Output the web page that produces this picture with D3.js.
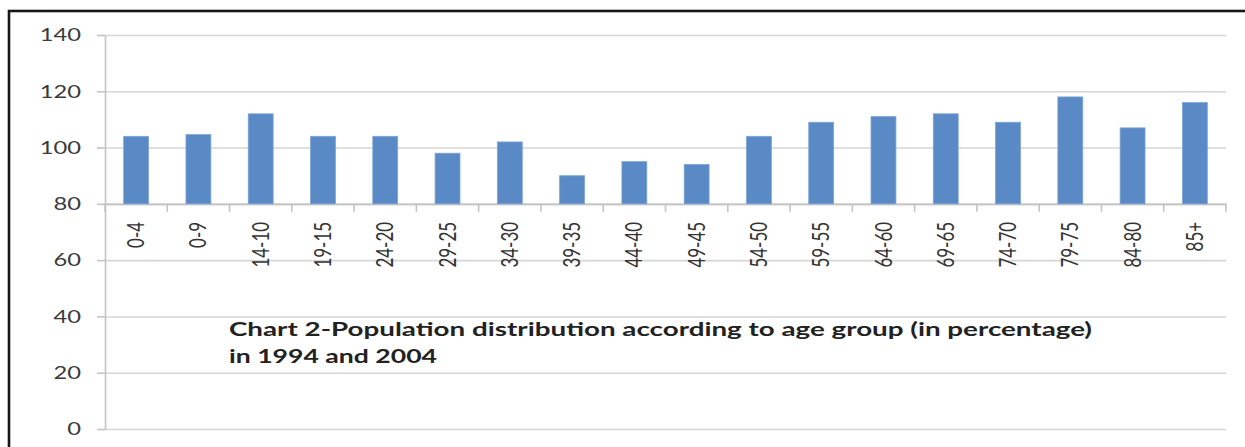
<!DOCTYPE html>
<html>
<head>
<meta charset="utf-8">
<script src="https://cdn.jsdelivr.net/npm/d3@7"></script>
<style>
  html, body { margin: 0; padding: 0; background: #ffffff; }
  svg { display: block; }
</style>
</head>
<body>
<svg id="chart" width="1245" height="447"></svg>
<script>
// Age groups and population ratio values (percent)
const categories = ["0-4", "0-9", "14-10", "19-15", "24-20", "29-25", "34-30", "39-35", "44-40",
                    "49-45", "54-50", "59-55", "64-60", "69-65", "74-70", "79-75", "84-80", "85+"];
const values = [104, 104.6, 112, 104, 104, 98, 102, 90, 95, 94, 104, 109, 111, 112, 109, 118, 107, 116];
const yTicks = [0, 20, 40, 60, 80, 100, 120, 140];
const titleLines = ["Chart 2-Population distribution according to age group (in percentage)",
                    "in 1994 and 2004"];
const baseValue = 80;

const svg = d3.select("#chart");
const plotLeft = 105, plotRight = 1226, plotTop = 35, plotBottom = 429;

const x = d3.scaleBand().domain(categories).range([plotLeft, plotRight]).paddingInner(0.6).paddingOuter(0.3);
const y = d3.scaleLinear().domain([0, 140]).range([plotBottom, plotTop]);

const gridColor = "#d6d6d6";
const axisColor = "#c4c4c4";

// outer frame
svg.append("rect")
  .attr("x", 9).attr("y", 11).attr("width", 1400).attr("height", 600)
  .attr("fill", "none").attr("stroke", "#161616").attr("stroke-width", 2.6);

// horizontal gridlines
const grid = svg.append("g").attr("transform", `translate(${plotLeft},0)`)
  .call(d3.axisLeft(y).tickValues(yTicks).tickSize(-(plotRight - plotLeft)).tickFormat(""));
grid.select(".domain").remove();
grid.selectAll(".tick line").attr("stroke", gridColor).attr("stroke-width", 1.6);

// value axis
const yAxis = svg.append("g").attr("transform", `translate(${plotLeft},0)`)
  .call(d3.axisLeft(y).tickValues(yTicks).tickSize(8).tickPadding(16).tickSizeOuter(0));
yAxis.select(".domain").attr("stroke", axisColor).attr("stroke-width", 1.6);
yAxis.selectAll(".tick line").attr("stroke", axisColor).attr("stroke-width", 1.6);
yAxis.selectAll(".tick text")
  .attr("font-family", "Lato, 'Open Sans', sans-serif")
  .attr("font-size", 18)
  .attr("fill", "#3a3a3a")
  .attr("text-anchor", "end")
  .attr("transform", function () {
    // widen the digits horizontally around their right edge
    const tx = -24;
    return `translate(${tx},0) scale(1.32,1) translate(${-tx},0)`;
  });

// category axis drawn along the 80 line
const xAxisY = y(baseValue);
const xAxis = svg.append("g").attr("transform", `translate(0,${xAxisY})`)
  .call(d3.axisBottom(x).tickSize(0).tickPadding(0).tickSizeOuter(0));
xAxis.select(".domain").attr("stroke", axisColor).attr("stroke-width", 1.6);
xAxis.selectAll(".tick text")
  .attr("font-family", "Lato, 'Open Sans', sans-serif")
  .attr("font-size", 17)
  .attr("fill", "#333333")
  .attr("text-anchor", "end")
  .attr("dy", "0.35em")
  .attr("y", 0)
  .attr("transform", "translate(0,18) rotate(-90) scale(1,1.35)");

// tick marks at the category boundaries
const boundaries = d3.range(categories.length + 1).map(i => plotLeft + i * x.step());
svg.append("g").selectAll("line").data(boundaries).join("line")
  .attr("x1", d => d).attr("x2", d => d)
  .attr("y1", xAxisY).attr("y2", xAxisY + 8)
  .attr("stroke", axisColor).attr("stroke-width", 1.6);

// bars rising from the 80 baseline
svg.append("g").selectAll("rect").data(categories).join("rect")
  .attr("x", d => x(d))
  .attr("width", x.bandwidth())
  .attr("y", (d, i) => y(values[i]))
  .attr("height", (d, i) => y(baseValue) - y(values[i]))
  .attr("fill", "#5a8ac5")
  .attr("stroke", "#7ea5d6")
  .attr("stroke-width", 0.8);

// chart caption inside the plot
const lineWidths = [863, 208];
svg.append("g").selectAll("text").data(titleLines).join("text")
  .attr("x", 229)
  .attr("y", (d, i) => 336 + i * 27)
  .attr("font-family", "Lato, 'Open Sans', sans-serif")
  .attr("font-weight", "bold")
  .attr("font-size", 19.5)
  .attr("fill", "#222222")
  .attr("textLength", (d, i) => lineWidths[i])
  .attr("lengthAdjust", "spacingAndGlyphs")
  .text(d => d);
</script>
</body>
</html>
